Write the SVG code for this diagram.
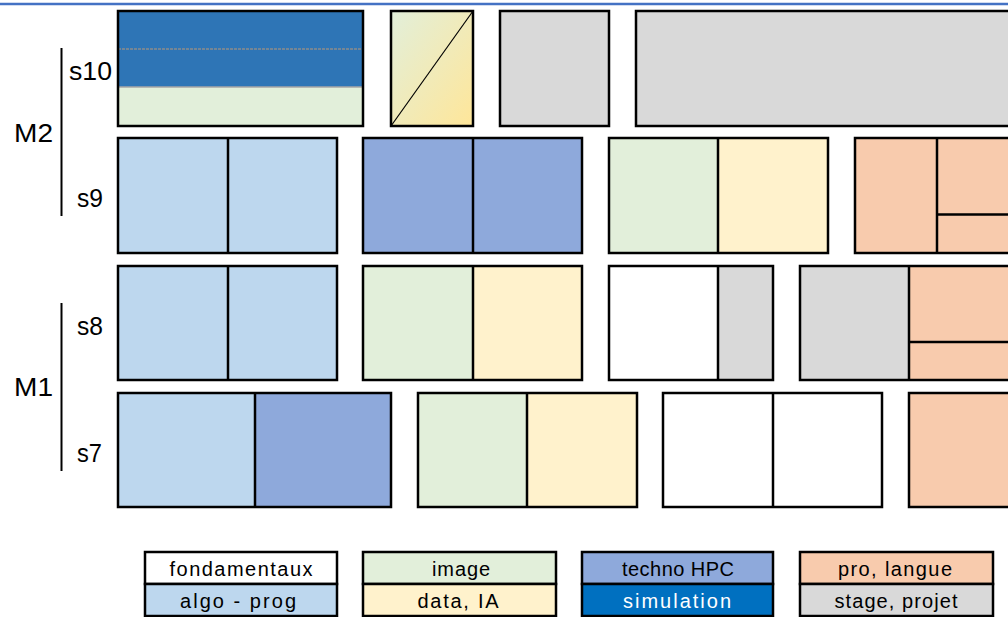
<svg xmlns="http://www.w3.org/2000/svg" width="1008" height="617" viewBox="0 0 1008 617">
<style>
.b{stroke:#000;stroke-width:2.5;}
.d{stroke:#000;stroke-width:2.5;fill:none;}
.fo{fill:#FFFFFF}.ap{fill:#BDD7EE}.im{fill:#E2EFDA}.da{fill:#FFF2CC}.th{fill:#8EA9DB}.si{fill:#2E75B6}.pl{fill:#F8CBAD}.sp{fill:#D9D9D9}
.lab{font-family:"Liberation Sans",Arial,sans-serif;font-size:26px;fill:#000}
.lg{font-family:"Liberation Sans",Arial,sans-serif;font-size:20px;fill:#000;text-anchor:middle}
</style>
<defs>
<linearGradient id="grad" x1="0" y1="0" x2="1" y2="1">
<stop offset="0" stop-color="#E2EFDA"/>
<stop offset="1" stop-color="#FFE699"/>
</linearGradient>
</defs>
<line x1="0" y1="4" x2="1008" y2="4" stroke="#4472C4" stroke-width="2.5"/>
<g id="labels">
<text class="lab" x="69" y="80" textLength="43" lengthAdjust="spacingAndGlyphs">s10</text>
<text class="lab" x="77" y="207" textLength="26" lengthAdjust="spacingAndGlyphs">s9</text>
<text class="lab" x="77" y="335" textLength="26" lengthAdjust="spacingAndGlyphs">s8</text>
<text class="lab" x="77" y="462" textLength="25" lengthAdjust="spacingAndGlyphs">s7</text>
<text class="lab" x="14" y="142" textLength="39" lengthAdjust="spacingAndGlyphs">M2</text>
<text class="lab" x="14" y="396" textLength="39" lengthAdjust="spacingAndGlyphs">M1</text>
</g>
<g id="connectors">
<line x1="61.5" y1="48" x2="61.5" y2="216" stroke="#000" stroke-width="2"/>
<line x1="61.5" y1="303" x2="61.5" y2="471" stroke="#000" stroke-width="2"/>
</g>
<g id="s10-sim">
<rect class="si" x="118" y="11" width="245" height="76"/>
<rect class="im" x="118" y="87" width="245" height="39"/>
<line x1="118" y1="49" x2="363" y2="49" stroke="#8C8C8C" stroke-width="1.5" stroke-dasharray="3 1"/>
<line x1="118" y1="87" x2="363" y2="87" stroke="#A6A6A6" stroke-width="1.5"/>
<rect class="d" x="118" y="11" width="245" height="115"/>
</g>
<g id="s10-grad">
<rect class="b" x="391" y="11" width="82" height="115" fill="url(#grad)"/>
<line x1="391" y1="126" x2="473" y2="11" stroke="#000" stroke-width="1.2"/>
</g>
<g id="s10-stage1"><rect class="b sp" x="500" y="11" width="109" height="115"/></g>
<g id="s10-stage2"><rect class="b sp" x="636" y="11" width="400" height="115"/></g>

<g id="s9-algo">
<rect class="b ap" x="118" y="138" width="219" height="115"/>
<line class="d" x1="228" y1="138" x2="228" y2="253"/>
</g>
<g id="s9-hpc">
<rect class="b th" x="363" y="138" width="219" height="115"/>
<line class="d" x1="473" y1="138" x2="473" y2="253"/>
</g>
<g id="s9-image">
<rect class="im" x="609" y="138" width="109" height="115"/>
<rect class="da" x="718" y="138" width="110" height="115"/>
<rect class="d" x="609" y="138" width="219" height="115"/>
<line class="d" x1="718" y1="138" x2="718" y2="253"/>
</g>
<g id="s9-pro">
<rect class="b pl" x="855" y="138" width="180" height="115"/>
<line class="d" x1="937" y1="138" x2="937" y2="253"/>
<line class="d" x1="937" y1="214.5" x2="1035" y2="214.5"/>
</g>

<g id="s8-algo">
<rect class="b ap" x="118" y="266" width="219" height="114"/>
<line class="d" x1="228" y1="266" x2="228" y2="380"/>
</g>
<g id="s8-image">
<rect class="im" x="363" y="266" width="110" height="114"/>
<rect class="da" x="473" y="266" width="109" height="114"/>
<rect class="d" x="363" y="266" width="219" height="114"/>
<line class="d" x1="473" y1="266" x2="473" y2="380"/>
</g>
<g id="s8-fond">
<rect class="fo" x="609" y="266" width="109" height="114"/>
<rect class="sp" x="718" y="266" width="55" height="114"/>
<rect class="d" x="609" y="266" width="164" height="114"/>
<line class="d" x1="718" y1="266" x2="718" y2="380"/>
</g>
<g id="s8-pro">
<rect class="sp" x="800" y="266" width="109" height="114"/>
<rect class="pl" x="909" y="266" width="126" height="114"/>
<rect class="d" x="800" y="266" width="235" height="114"/>
<line class="d" x1="909" y1="266" x2="909" y2="380"/>
<line class="d" x1="909" y1="342" x2="1035" y2="342"/>
</g>

<g id="s7-algo">
<rect class="ap" x="118" y="393" width="137" height="114"/>
<rect class="th" x="255" y="393" width="136" height="114"/>
<rect class="d" x="118" y="393" width="273" height="114"/>
<line class="d" x1="255" y1="393" x2="255" y2="507"/>
</g>
<g id="s7-image">
<rect class="im" x="418" y="393" width="109" height="114"/>
<rect class="da" x="527" y="393" width="110" height="114"/>
<rect class="d" x="418" y="393" width="219" height="114"/>
<line class="d" x1="527" y1="393" x2="527" y2="507"/>
</g>
<g id="s7-fond">
<rect class="b fo" x="663" y="393" width="219" height="114"/>
<line class="d" x1="773" y1="393" x2="773" y2="507"/>
</g>
<g id="s7-pro"><rect class="b pl" x="909" y="393" width="126" height="114"/></g>

<g id="legend-fond">
<rect class="b fo" x="145" y="552" width="192" height="32"/>
<text class="lg" x="241" y="576" textLength="143" lengthAdjust="spacing">fondamentaux</text>
</g>
<g id="legend-algo">
<rect class="b ap" x="145" y="584" width="192" height="32"/>
<text class="lg" x="238" y="608" textLength="116" lengthAdjust="spacing">algo - prog</text>
</g>
<g id="legend-image">
<rect class="b im" x="363" y="552" width="193" height="32"/>
<text class="lg" x="461" y="576" textLength="58" lengthAdjust="spacing">image</text>
</g>
<g id="legend-data">
<rect class="b da" x="363" y="584" width="193" height="32"/>
<text class="lg" x="458" y="608" textLength="81" lengthAdjust="spacing">data, IA</text>
</g>
<g id="legend-hpc">
<rect class="b th" x="582" y="552" width="191" height="32"/>
<text class="lg" x="678" y="576" textLength="112" lengthAdjust="spacing">techno HPC</text>
</g>
<g id="legend-sim">
<rect class="b" fill="#0070C0" x="582" y="584" width="191" height="32"/>
<text class="lg" x="677" y="608" textLength="108" lengthAdjust="spacing" style="fill:#FFFFFF">simulation</text>
</g>
<g id="legend-pro">
<rect class="b pl" x="800" y="552" width="193" height="32"/>
<text class="lg" x="895" y="576" textLength="114" lengthAdjust="spacing">pro, langue</text>
</g>
<g id="legend-stage">
<rect class="b sp" x="800" y="584" width="193" height="32"/>
<text class="lg" x="896" y="608" textLength="123" lengthAdjust="spacing">stage, projet</text>
</g>
</svg>
